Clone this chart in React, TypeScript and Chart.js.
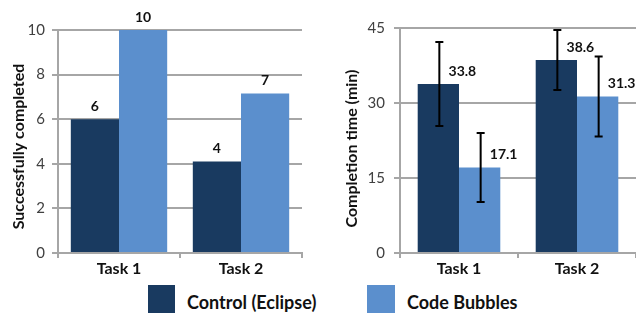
import React, { useEffect, useRef } from "react";
import { Chart, registerables } from "chart.js";

Chart.register(...registerables);

const categories = ["Task 1", "Task 2"];
const seriesNames = ["Control (Eclipse)", "Code Bubbles"];
const successControl = [6, 4.1];
const successBubbles = [10, 7.15];
const successLabelsControl = ["6", "4"];
const successLabelsBubbles = ["10", "7"];
const timeControl = [33.8, 38.6];
const timeBubbles = [17.1, 31.3];
const timeErrControl = [8.4, 6.0];
const timeErrBubbles = [6.9, 8.0];
const successTicks = [0, 2, 4, 6, 8, 10];
const timeTicks = [0, 15, 30, 45];

const DARK = "#193a60";
const LIGHT = "#5b8fcd";
const GRID = "#a6a6a6";
const FONT = "Lato, 'Liberation Sans', sans-serif";

function makeLabelPlugin(
  labels: string[][],
  dx: number,
  title: string,
  titleX: number,
  titleDy: number,
  errs?: number[][]
) {
  return {
    id: "labels",
    afterDatasetsDraw(chart: any) {
      const ctx = chart.ctx;
      const yScale = chart.scales.y;
      ctx.save();
      chart.data.datasets.forEach((ds: any, di: number) => {
        const meta = chart.getDatasetMeta(di);
        meta.data.forEach((bar: any, i: number) => {
          if (errs) {
            const v = ds.data[i];
            const e = errs[di][i];
            const yt = yScale.getPixelForValue(v + e);
            const yb = yScale.getPixelForValue(v - e);
            ctx.strokeStyle = "#000";
            ctx.lineWidth = 2;
            ctx.beginPath();
            ctx.moveTo(bar.x + 1, yt);
            ctx.lineTo(bar.x + 1, yb);
            ctx.moveTo(bar.x - 3, yt);
            ctx.lineTo(bar.x + 5, yt);
            ctx.moveTo(bar.x - 3, yb);
            ctx.lineTo(bar.x + 5, yb);
            ctx.stroke();
          }
          ctx.fillStyle = "#111";
          ctx.font = `bold 14px ${FONT}`;
          ctx.textAlign = "center";
          ctx.textBaseline = "middle";
          ctx.fillText(labels[di][i], bar.x + dx, bar.y - 13);
        });
      });
      const area = chart.chartArea;
      ctx.translate(titleX, (area.top + area.bottom) / 2 + titleDy);
      ctx.rotate(-Math.PI / 2);
      ctx.fillStyle = "#111";
      ctx.font = `bold 16px ${FONT}`;
      ctx.textAlign = "center";
      ctx.textBaseline = "middle";
      ctx.fillText(title, 0, 0);
      ctx.restore();
    },
  };
}

function baseOptions(opts: {
  min: number;
  max: number;
  ticks: number[];
  yWidth: number;
  tickPad: number;
  top: number;
  right: number;
  catPct: number;
}) {
  return {
    responsive: false,
    animation: false as const,
    layout: { padding: { top: opts.top, right: opts.right, left: 0, bottom: 0 } },
    plugins: { legend: { display: false }, tooltip: { enabled: false } },
    datasets: { bar: { categoryPercentage: opts.catPct, barPercentage: 1 } },
    scales: {
      x: {
        grid: {
          offset: true,
          drawOnChartArea: false,
          drawTicks: true,
          tickLength: 5,
          color: GRID,
          lineWidth: 2,
        },
        border: { color: GRID, width: 2 },
        ticks: {
          color: "#111",
          font: { family: FONT, size: 16, weight: "bold" as const },
          padding: 1,
        },
        afterFit: (axis: any) => {
          axis.height = 27;
        },
      },
      y: {
        min: opts.min,
        max: opts.max,
        afterBuildTicks: (axis: any) => {
          axis.ticks = opts.ticks.map((v) => ({ value: v }));
        },
        grid: { color: GRID, lineWidth: 2, tickLength: 6 },
        border: { color: GRID, width: 2 },
        ticks: {
          color: "#404040",
          font: { family: FONT, size: 15 },
          padding: opts.tickPad,
        },
        afterFit: (axis: any) => {
          axis.width = opts.yWidth;
        },
      },
    },
  };
}

export default function App() {
  const leftRef = useRef<HTMLCanvasElement>(null);
  const rightRef = useRef<HTMLCanvasElement>(null);

  useEffect(() => {
    document.body.style.margin = "0";
    const left = new Chart(leftRef.current!, {
      type: "bar",
      data: {
        labels: categories,
        datasets: [
          { label: seriesNames[0], data: successControl, backgroundColor: DARK },
          { label: seriesNames[1], data: successBubbles, backgroundColor: LIGHT },
        ],
      },
      options: baseOptions({
        min: 0,
        max: 10,
        ticks: successTicks,
        yWidth: 58,
        tickPad: 7,
        top: 30,
        right: 16,
        catPct: 0.79,
      }) as any,
      plugins: [
        makeLabelPlugin([successLabelsControl, successLabelsBubbles], 0, "Successfully completed", 19, 5),
      ],
    });
    const right = new Chart(rightRef.current!, {
      type: "bar",
      data: {
        labels: categories,
        datasets: [
          { label: seriesNames[0], data: timeControl, backgroundColor: DARK },
          { label: seriesNames[1], data: timeBubbles, backgroundColor: LIGHT },
        ],
      },
      options: baseOptions({
        min: 0,
        max: 45,
        ticks: timeTicks,
        yWidth: 82,
        tickPad: 9,
        top: 28,
        right: 0,
        catPct: 0.7,
      }) as any,
      plugins: [
        makeLabelPlugin(
          [timeControl.map((v) => v.toFixed(1)), timeBubbles.map((v) => v.toFixed(1))],
          24,
          "Completion time (min)",
          34,
          8,
          [timeErrControl, timeErrBubbles]
        ),
      ],
    });
    return () => {
      left.destroy();
      right.destroy();
    };
  }, []);

  const legendText: React.CSSProperties = {
    position: "absolute",
    top: 291,
    fontFamily: FONT,
    fontWeight: "bold",
    fontSize: 18,
    color: "#111",
    lineHeight: "22px",
    whiteSpace: "nowrap",
  };

  return (
    <div style={{ position: "relative", width: 636, height: 313, overflow: "hidden", background: "#fff" }}>
      <canvas ref={leftRef} width={318} height={280} style={{ position: "absolute", left: 0, top: 0 }} />
      <canvas ref={rightRef} width={318} height={280} style={{ position: "absolute", left: 318, top: 0 }} />
      <div style={{ position: "absolute", left: 148, top: 285, width: 27, height: 28, background: DARK }} />
      <div style={{ ...legendText, left: 187 }}>{seriesNames[0]}</div>
      <div style={{ position: "absolute", left: 367, top: 285, width: 28, height: 28, background: LIGHT }} />
      <div style={{ ...legendText, left: 407 }}>{seriesNames[1]}</div>
    </div>
  );
}
